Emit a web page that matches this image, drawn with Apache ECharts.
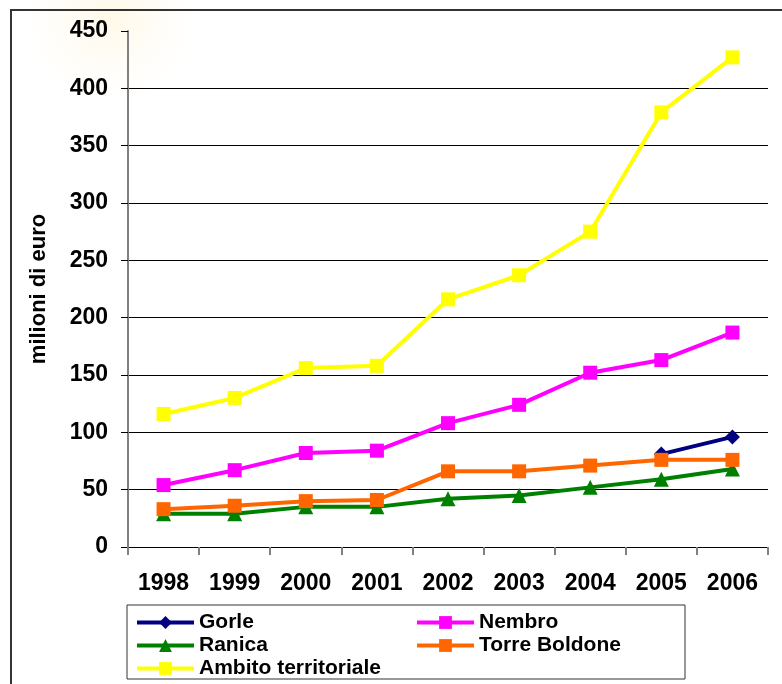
<!DOCTYPE html>
<html>
<head>
<meta charset="utf-8">
<script src="https://cdn.jsdelivr.net/npm/echarts@6/dist/echarts.min.js"></script>
<style>
  html, body { margin: 0; padding: 0; background: #fff; }
  #chart { width: 782px; height: 684px; }
</style>
</head>
<body>
<div id="chart"></div>
<script>
// dati (milioni di euro)
var anni = ['1998', '1999', '2000', '2001', '2002', '2003', '2004', '2005', '2006'];
var gorle = [null, null, null, null, null, null, null, 81, 96];
var nembro = [54, 67, 82, 84, 108, 124, 152, 163, 187];
var ranica = [29, 29, 35, 35, 42, 45, 52, 59, 68];
var torreBoldone = [33, 36, 40, 41, 66, 66, 71, 76, 76];
var ambito = [116, 130, 156, 158, 216, 237, 275, 379, 427];

var font = 'Liberation Sans, Arial, sans-serif';

function serie(name, data, color, symbol, size) {
  return {
    name: name,
    type: 'line',
    data: data,
    symbol: symbol,
    symbolSize: size,
    showSymbol: true,
    connectNulls: false,
    animation: false,
    itemStyle: { color: color },
    lineStyle: { color: color, width: 4 }
  };
}

var legendaBase = {
  orient: 'vertical',
  top: 612,
  itemWidth: 57,
  itemHeight: 16,
  itemGap: 2,
  padding: 0,
  lineStyle: { width: 4 },
  textStyle: { fontFamily: font, fontWeight: 'bold', fontSize: 21, lineHeight: 20, color: '#000' }
};

var chart = echarts.init(document.getElementById('chart'));
chart.setOption({
  backgroundColor: '#fff',
  animation: false,
  graphic: [
    {
      type: 'circle',
      shape: { cx: 110, cy: 15, r: 90 },
      style: {
        fill: new echarts.graphic.RadialGradient(0.5, 0.5, 0.5, [
          { offset: 0, color: 'rgba(255,225,150,0.22)' },
          { offset: 1, color: 'rgba(255,240,200,0)' }
        ])
      },
      z: -10
    },
    {
      type: 'rect',
      shape: { x: 11, y: 10, width: 800, height: 700 },
      style: { fill: 'none', stroke: '#333', lineWidth: 2 },
      z: -5
    },
    {
      type: 'rect',
      shape: { x: 127, y: 605, width: 558, height: 74 },
      style: { fill: '#fff', stroke: '#333', lineWidth: 1 },
      z: -1
    }
  ],
  legend: [
    Object.assign({}, legendaBase, {
      data: ['Gorle', 'Ranica', 'Ambito territoriale'],
      left: 135
    }),
    Object.assign({}, legendaBase, {
      data: ['Nembro', 'Torre Boldone'],
      left: 415
    })
  ],
  grid: {
    left: 128,
    right: 14,
    top: 31,
    bottom: 137
  },
  xAxis: {
    type: 'category',
    data: anni,
    boundaryGap: true,
    axisLine: { lineStyle: { color: '#000', width: 1 } },
    axisTick: { show: true, length: 8, lineStyle: { color: '#808080', width: 2 } },
    axisLabel: { fontFamily: font, fontWeight: 'bold', fontSize: 23, color: '#000', margin: 25 },
    splitLine: { show: false }
  },
  yAxis: {
    type: 'value',
    min: 0,
    max: 450,
    interval: 50,
    name: 'milioni di euro',
    nameLocation: 'middle',
    nameGap: 78,
    nameRotate: 90,
    nameTextStyle: { fontFamily: font, fontWeight: 'bold', fontSize: 22, color: '#000' },
    axisLine: { show: true, lineStyle: { color: '#808080', width: 2 } },
    axisTick: { show: true, length: 7, lineStyle: { color: '#000', width: 1 } },
    axisLabel: { fontFamily: font, fontWeight: 'bold', fontSize: 23, color: '#000', margin: 20 },
    splitLine: {
      show: true,
      lineStyle: {
        color: ['#000', '#000', '#000', '#000', '#000', '#000', '#000', '#000', '#000', 'rgba(0,0,0,0)'],
        width: 1
      }
    }
  },
  series: [
    serie('Gorle', gorle, '#000080', 'diamond', 15),
    serie('Nembro', nembro, '#FF00FF', 'rect', 14),
    serie('Ranica', ranica, '#008000', 'triangle', 15),
    serie('Torre Boldone', torreBoldone, '#FF6600', 'rect', 14),
    serie('Ambito territoriale', ambito, '#FFFF00', 'rect', 14)
  ]
});
</script>
</body>
</html>
